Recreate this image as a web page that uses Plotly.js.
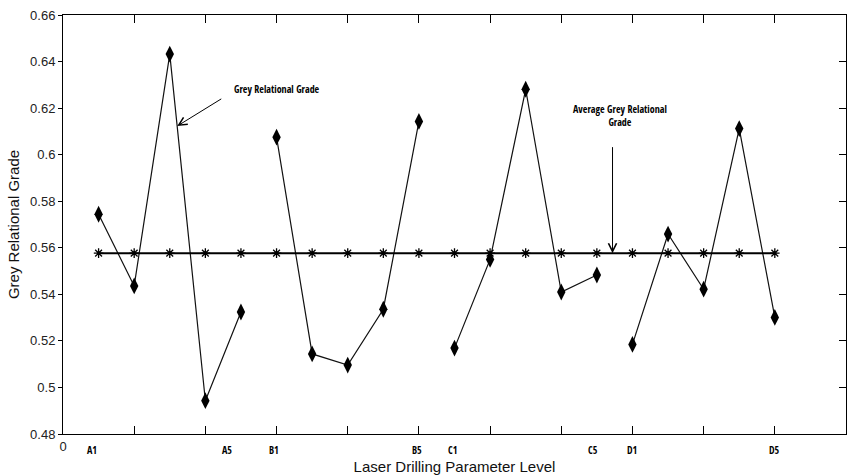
<!DOCTYPE html>
<html>
<head>
<meta charset="utf-8">
<script src="https://cdn.plot.ly/plotly-3.0.1.min.js"></script>
<style>html,body{margin:0;padding:0;background:#fff;}#chart{width:848px;height:475px;}</style>
</head>
<body>
<div id="chart"></div>
<script>
// Grey relational grade per level
const groupA = [0.5744, 0.5436, 0.6432, 0.4943, 0.5324];
const groupB = [0.6075, 0.5144, 0.5096, 0.5336, 0.6143];
const groupC = [0.5169, 0.5550, 0.6281, 0.5410, 0.5483];
const groupD = [0.5185, 0.5659, 0.5422, 0.6112, 0.5301];
const groupX = [[1,2,3,4,5],[6,7,8,9,10],[11,12,13,14,15],[16,17,18,19,20]];
const averageGrade = 0.5577;
const averageX = [1,2,3,4,5,6,7,8,9,10,11,12,13,14,15,16,17,18,19,20];
const levelLabels = ['A1','A5','B1','B5','C1','C5','D1','D5'];
const levelLabelX = [0.82, 4.6, 5.94, 9.94, 10.93, 14.9, 16.0, 20.0];
const yTicks = [0.48,0.5,0.52,0.54,0.56,0.58,0.6,0.62,0.64,0.66];
const yTickText = ['0.48','0.5','0.52','0.54','0.56','0.58','0.6','0.62','0.64','0.66'];

const groups = [groupA, groupB, groupC, groupD];
const traces = groups.map((g, i) => ({
  x: groupX[i], y: g, type: 'scatter', mode: 'lines+markers',
  line: {color: '#111', width: 1.2},
  marker: {symbol: 'diamond-tall', size: 12, color: '#000'},
  showlegend: false, hoverinfo: 'x+y'
}));
traces.push({
  x: averageX, y: averageX.map(() => averageGrade), type: 'scatter', mode: 'lines+markers',
  line: {color: '#000', width: 2},
  marker: {symbol: 'asterisk-open', size: 8, color: '#000', line: {color: '#000', width: 1.3}},
  showlegend: false, yaxis: 'y2'
});

const labelFont = {family: 'Open Sans Condensed, Roboto Condensed, DejaVu Sans Condensed, sans-serif', size: 10, color: '#000', weight: 'bold'};
const annotations = levelLabels.map((t, i) => ({
  text: t, x: levelLabelX[i], xref: 'x', y: -0.038, yref: 'paper',
  showarrow: false, font: labelFont, xanchor: 'center', yanchor: 'middle'
}));
annotations.push({
  text: 'Grey Relational Grade', x: 4.75, xref: 'x', y: 0.6284, yref: 'y',
  showarrow: false, font: labelFont, xanchor: 'left', yanchor: 'middle'
});
annotations.push({
  text: ' ', x: 3.21, xref: 'x', y: 0.6123, yref: 'y',
  showarrow: true, ax: 47, ay: -29, arrowhead: 5, arrowsize: 1.6, arrowwidth: 1, arrowcolor: '#000'
});
annotations.push({
  text: 'Average Grey Relational<br>Grade', x: 15.66, xref: 'x', y: 0.6168, yref: 'y',
  showarrow: false, font: labelFont, xanchor: 'center', yanchor: 'middle', align: 'center'
});
annotations.push({
  text: ' ', x: 15.44, xref: 'x', y: averageGrade, yref: 'y',
  showarrow: true, ax: 0, ay: -116, arrowhead: 5, arrowsize: 1.6, arrowwidth: 1, arrowcolor: '#000'
});

const axisFont = {family: 'Liberation Sans, Arial, sans-serif', size: 13, color: '#222'};
const layout = {
  width: 848, height: 475,
  margin: {l: 63, r: 2, t: 15, b: 41},
  paper_bgcolor: '#fff', plot_bgcolor: '#fff',
  showlegend: false,
  xaxis: {
    range: [0, 22], tickvals: [0,2,4,6,8,10,12,14,16,18,20,22],
    ticktext: ['0','','','','','','','','','','',''],
    ticks: 'inside', ticklen: 8, tickcolor: '#000', tickwidth: 1,
    showline: true, linecolor: '#000', linewidth: 1, mirror: 'ticks',
    showgrid: false, zeroline: false, tickfont: axisFont,
    title: {text: 'Laser Drilling Parameter Level', font: {family: 'Liberation Sans, Arial, sans-serif', size: 15, color: '#111'}, standoff: 8}
  },
  yaxis: {
    range: [0.48, 0.66], tickvals: yTicks, ticktext: yTickText,
    ticks: 'outside', ticklen: 4, tickcolor: '#000',
    showline: true, linecolor: '#000', linewidth: 1, mirror: true,
    showgrid: false, zeroline: false, tickfont: axisFont,
    title: {text: 'Grey Relational Grade', font: {family: 'Liberation Sans, Arial, sans-serif', size: 15, color: '#111'}, standoff: 6}
  },
  yaxis2: {
    overlaying: 'y', side: 'right', matches: 'y', range: [0.48, 0.66],
    tickvals: yTicks, ticks: 'inside', ticklen: 7, tickcolor: '#000',
    showticklabels: false, showgrid: false, zeroline: false, showline: false
  },
  annotations: annotations
};
Plotly.newPlot('chart', traces, layout, {staticPlot: true, displayModeBar: false});
</script>
</body>
</html>
